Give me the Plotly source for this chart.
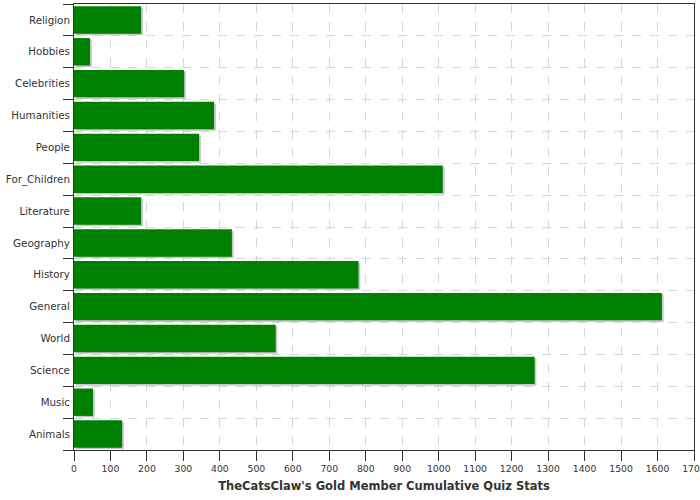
import plotly.graph_objects as go

categories = ["Animals", "Music", "Science", "World", "General", "History", "Geography",
              "Literature", "For_Children", "People", "Humanities", "Celebrities", "Hobbies", "Religion"]
values = [132, 52, 1263, 553, 1612, 780, 433, 184, 1011, 343, 384, 302, 44, 184]
x_ticks = list(range(0, 1701, 100))
title_text = "TheCatsClaw's Gold Member Cumulative Quiz Stats"

font_family = "DejaVu Sans, Verdana, sans-serif"
bar_w = 0.86

fig = go.Figure()
# shadow
fig.add_trace(go.Bar(
    y=categories, x=values, orientation="h",
    base=5, width=bar_w, offset=-bar_w / 2 - 0.05,
    marker=dict(color="#c8c8c8", line=dict(width=0)),
    hoverinfo="skip", showlegend=False,
))
fig.add_trace(go.Bar(
    y=categories, x=values, orientation="h",
    width=bar_w, offset=-bar_w / 2,
    marker=dict(color="#008000", line=dict(width=0)),
    showlegend=False,
))

fig.update_layout(
    width=700, height=500,
    margin=dict(l=74, r=6, t=4, b=50, autoexpand=False),
    barmode="overlay",
    plot_bgcolor="white", paper_bgcolor="white",
    font=dict(family=font_family, size=9, color="#333333"),
)
fig.update_xaxes(
    range=[0, 1700], tickvals=x_ticks, ticktext=[str(v) for v in x_ticks],
    ticks="outside", ticklen=10, tickcolor="#333333", tickwidth=1,
    showline=True, linecolor="#333333", linewidth=1, mirror=True,
    showgrid=True, gridcolor="#cfd8dc", griddash="dash", gridwidth=1,
    zeroline=False, ticklabeloverflow="allow",
    tickfont=dict(size=9.3, color="#333333"),
    title=dict(text="<b>" + title_text + "</b>", font=dict(size=11.5, color="#333333"), standoff=8),
)
fig.update_yaxes(
    type="category", categoryorder="array", categoryarray=categories,
    range=[-0.5, len(categories) - 0.5],
    ticks="outside", ticklen=10, tickcolor="#333333", tickwidth=1,
    tickson="boundaries",
    showline=True, linecolor="#333333", linewidth=1, mirror=True,
    showgrid=True, gridcolor="#cfd8dc", griddash="dash", gridwidth=1,
    tickfont=dict(size=10.3, color="#333333"),
    ticklabelstandoff=1,
)

fig.write_html(
    "out.html",
    config={"displayModeBar": False},
    post_script="document.body.style.margin='0';document.body.style.overflow='hidden';",
)
